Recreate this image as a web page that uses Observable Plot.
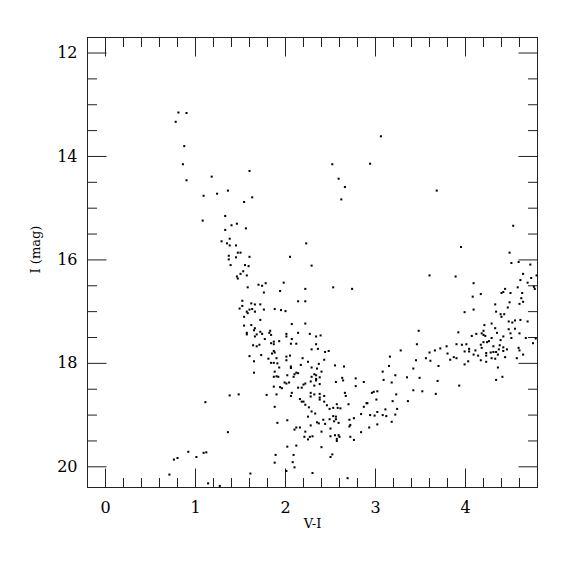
<!DOCTYPE html>
<html>
<head>
<meta charset="utf-8">
<script src="https://cdn.jsdelivr.net/npm/d3@7"></script>
<script src="https://cdn.jsdelivr.net/npm/@observablehq/plot@0.6"></script>
<style>
  html, body { margin: 0; padding: 0; background: #fff; }
  #chart svg { display: block; }
</style>
</head>
<body>
<div id="chart"></div>
<script>
// ---- Data: [V-I, I (mag)] ----
const brightStars = [[0.81,13.15],[0.90,13.16],[0.78,13.33],[0.875,13.80],[0.86,14.15],[1.18,14.39],[0.90,14.46],
  [3.06,13.61],[1.60,14.28],[2.52,14.15],[2.94,14.14],[2.59,14.43],[2.66,14.59],[3.68,14.66],
  [1.09,14.76],[1.24,14.72],[1.36,14.66],[1.63,14.79],[1.54,14.88],[2.62,14.83]];

const giantBranch = [[1.08,15.24],[1.33,15.15],[1.40,15.33],[1.46,15.30],[1.33,15.42],[1.38,15.59],[1.29,15.64],[1.35,15.68],
  [1.38,15.72],[1.45,15.72],[1.37,15.92],[1.37,15.99],[1.45,15.95],[1.39,16.10],[1.46,16.32],
  [1.56,15.39],[2.23,15.68],[1.47,15.86],[1.50,15.86],[1.60,15.94],[2.05,15.94],[2.29,16.11],[1.55,16.10],[1.59,16.12],
  [1.53,16.22],[1.50,16.27],[1.57,16.30],[1.47,16.36],[1.98,16.44],[1.78,16.45],[1.70,16.48],[1.74,16.50],[1.58,16.53],
  [2.53,16.53],[2.74,16.56],[2.22,16.56],[1.94,16.60],[1.76,16.63],[1.52,16.79],[2.14,16.80],[2.22,16.80],[1.62,16.84],
  [1.66,16.86],[1.52,16.89],[1.72,16.86],[1.49,16.94],[1.60,16.96],[1.63,16.95],[1.76,16.96],[1.88,16.95],[1.95,16.97],
  [2.00,16.99],[1.57,17.00],[1.58,17.03],[1.66,17.00],[1.54,17.10],[1.72,17.16],[2.07,17.24],[2.22,17.23],[1.54,17.27],
  [1.62,17.26],[1.66,17.32],[1.65,17.36],[1.72,17.39],[1.57,17.41],[1.57,17.44],[1.68,17.44],[1.74,17.43],[1.82,17.41],
  [1.83,17.37],[1.84,17.45],[2.01,17.43],[2.14,17.41],[2.27,17.43],[2.34,17.48],[2.39,17.46],[2.01,17.48],[1.66,17.48]];

const redGiants = [[4.53,15.34],[3.95,15.75],[4.49,15.86],[4.51,16.06],[4.59,16.04],[4.72,16.09],[3.60,16.30],[3.89,16.32],
  [4.64,16.27],[4.73,16.35],[4.79,16.30],[4.61,16.39],[4.69,16.44],[4.09,16.45],[4.76,16.52],[4.77,16.56],[4.58,16.53],
  [4.44,16.56],[4.42,16.62],[4.40,16.64],[4.50,16.64],[4.63,16.64],[4.17,16.66],[4.08,16.71],[4.62,16.74],[4.64,16.81],
  [4.49,16.82],[4.60,16.85],[4.33,16.86],[4.47,16.92],[4.09,16.96],[3.99,17.01],[4.34,17.00],[4.39,17.05],[4.43,17.05],
  [4.40,17.10],[4.55,17.17],[4.61,17.16],[4.69,17.19],[4.48,17.19],[4.52,17.21],[4.29,17.23],[4.21,17.26],[4.33,17.32],
  [4.48,17.34],[4.55,17.33],[4.20,17.37],[4.35,17.41],[4.50,17.42],[4.60,17.42],[3.48,17.37],[3.92,17.40],[4.07,17.47],
  [4.12,17.43],[4.18,17.42],[4.20,17.45],[4.22,17.47],[4.42,17.48]];

const redSequence = [[4.75,17.61],[4.78,17.52],[4.67,17.51],[4.51,17.51],[4.29,17.51],[4.20,17.59],[4.24,17.59],[4.26,17.57],
  [4.17,17.64],[4.01,17.63],[3.96,17.64],[3.90,17.63],[3.79,17.67],[3.72,17.71],[3.66,17.75],[3.60,17.79],[3.56,17.90],
  [3.61,17.95],[3.80,17.81],[3.83,17.93],[3.87,17.88],[3.90,17.90],[3.99,17.77],[4.04,17.72],[4.04,17.77],[4.09,17.83],
  [4.03,17.96],[3.99,18.02],[4.11,17.75],[4.14,17.85],[4.17,17.94],[4.23,17.80],[4.23,17.85],[4.23,17.97],[4.18,17.70],
  [4.28,17.79],[4.31,17.78],[4.34,17.78],[4.29,17.90],[4.33,17.91],[4.31,17.67],[4.36,17.83],[4.37,17.73],[4.38,17.65],
  [4.39,17.55],[4.42,17.69],[4.46,17.73],[4.42,17.76],[4.44,17.88],[4.36,18.08],[4.34,18.32],[4.41,18.26],[4.59,17.70],
  [4.60,17.75],[4.64,17.83],[4.57,17.90],[3.70,18.05],[3.69,18.34],[3.67,18.59],[3.93,18.43],[3.52,18.54],[3.49,18.28],
  [3.45,17.94],[3.46,17.63],[3.28,17.75],[3.35,18.27],[3.42,18.10],[3.42,18.52],[3.36,18.73],[3.16,17.87],[3.15,18.05],
  [3.22,18.23],[3.18,18.37],[3.23,18.60],[3.19,18.73],[3.24,18.88],[3.22,18.99],[3.18,19.13]];

const faintBlue = [[1.11,18.75],[1.38,18.62],[1.36,19.33],[0.92,19.71],[1.01,19.81],[1.09,19.73],[1.12,19.72],[0.80,19.83],
  [0.76,19.86],[0.71,20.15],[1.14,20.32],[1.27,20.37]];

const lowerBranch = [[1.77,17.53],[2.07,17.53],[1.64,17.65],[1.68,17.67],[1.71,17.64],[1.84,17.61],[1.87,17.58],[1.87,17.63],
  [1.93,17.57],[2.06,17.62],[2.12,17.62],[2.34,17.63],[2.29,17.73],[2.36,17.72],[2.44,17.78],[2.48,17.76],[1.60,17.86],
  [1.65,17.96],[1.73,17.84],[1.81,17.91],[1.85,17.81],[1.87,17.76],[1.88,17.79],[1.90,17.90],[1.84,17.99],[1.87,17.99],
  [1.91,18.00],[1.93,18.08],[2.01,17.87],[2.01,17.94],[2.05,17.85],[2.06,18.06],[2.06,18.09],[2.19,17.90],[2.25,17.97],
  [2.17,18.03],[2.43,17.93],[2.37,18.01],[2.29,18.08],[2.35,18.10],[2.40,18.16],[2.55,18.04],[2.65,18.06],[3.08,18.16],
  [3.09,18.32],[1.65,18.18],[1.88,18.16],[1.90,18.25],[1.87,18.26],[1.92,18.26],[2.02,18.23],[2.10,18.21],[2.12,18.18],
  [2.14,18.19],[2.09,18.26],[2.32,18.21],[2.34,18.23],[2.29,18.26],[2.38,18.27],[2.34,18.30],[2.34,18.33],[2.28,18.35],
  [2.38,18.40],[2.32,18.43],[2.56,18.36],[2.63,18.28],[2.64,18.33],[2.78,18.29],[2.87,18.36],[2.78,18.44],[1.99,18.37],
  [2.01,18.39],[2.04,18.37],[1.87,18.45],[1.94,18.46],[1.96,18.48],[2.14,18.47],[2.18,18.47],[2.20,18.41],[2.22,18.39],
  [1.48,18.60],[1.79,18.61],[1.90,18.60],[2.07,18.57],[2.06,18.63],[2.28,18.57],[2.28,18.64],[2.32,18.60],[2.38,18.59],
  [2.38,18.66],[2.43,18.63],[2.38,18.70],[2.43,18.74],[2.46,18.81],[2.49,18.88],[2.53,18.86],[2.57,18.79],[2.58,18.86],
  [2.61,18.87],[2.66,18.57],[2.67,18.63],[2.70,18.79],[2.16,18.69],[2.18,18.74],[2.20,18.74],[2.22,18.80],[2.26,18.85],
  [2.29,18.93],[2.33,18.97],[2.25,19.03],[1.88,18.84],[2.53,19.02],[2.56,19.03],[2.56,19.08],[2.54,19.12],[2.49,19.08],
  [2.42,19.09],[2.35,19.14],[2.37,19.16],[2.44,19.17],[2.50,19.26],[2.59,19.15],[2.71,19.09],[2.76,19.06],[2.72,19.19],
  [2.71,19.22],[2.28,19.20],[2.16,19.24],[2.12,19.24],[2.10,19.28],[2.22,19.32],[2.30,19.41],[2.27,19.42],[2.25,19.47],
  [2.21,19.42],[2.40,19.32],[2.50,19.41],[2.55,19.39],[2.59,19.39],[2.60,19.42],[2.57,19.46],[2.57,19.50],[2.72,19.42],
  [2.76,19.48],[2.84,19.33],[2.93,19.24],[3.02,19.18],[3.11,18.89],[3.12,19.02],[3.08,19.00],[3.02,18.94],[2.99,19.01],
  [2.94,19.00],[3.02,18.54],[2.98,18.55],[2.96,18.57],[3.01,18.70],[2.91,18.77],[2.90,18.77],[2.87,18.84],[2.84,18.98],
  [2.02,19.10],[1.91,19.15],[2.12,19.59],[2.02,19.61],[1.89,19.77],[2.09,19.77],[2.52,19.76],[2.50,19.81],[2.40,19.62],
  [1.88,19.92],[2.08,19.91],[2.10,20.01],[2.01,20.08],[1.61,20.13],[2.30,20.12],[2.69,20.22]];

// ---- Axes ----
const xMajor = [0, 1, 2, 3, 4];
const xMinor = [0.2,0.4,0.6,0.8,1.2,1.4,1.6,1.8,2.2,2.4,2.6,2.8,3.2,3.4,3.6,3.8,4.2,4.4,4.6];
const yMajor = [12, 14, 16, 18, 20];
const yMinor = [12.5,13,13.5,14.5,15,15.5,16.5,17,17.5,18.5,19,19.5];
const xTitle = "V-I";
const yTitle = "I (mag)";

const stars = [...brightStars, ...giantBranch, ...redGiants, ...redSequence, ...faintBlue, ...lowerBranch];

const FONT = "'DejaVu Serif', 'Liberation Serif', serif";
const MAJOR = 19, MINOR = 9.5;
const line = {draw(ctx, l) { ctx.moveTo(0, 0); ctx.lineTo(0, -l); }};
const tickOpts = (len) => ({shape: line, length: len, anchor: "start", stroke: "#222", strokeWidth: 1, strokeLinecap: "butt"});

const chart = Plot.plot({
  width: 575,
  height: 575,
  marginLeft: 87,
  marginRight: 38,
  marginTop: 37,
  marginBottom: 88,
  style: {fontFamily: FONT, background: "white", color: "black"},
  x: {domain: [-0.2, 4.8], axis: null},
  y: {domain: [11.7, 20.4], reverse: true, axis: null},
  marks: [
    Plot.frame({stroke: "#222", strokeWidth: 1}),
    // bottom / top ticks
    Plot.vectorX(xMajor, {x: d => d, frameAnchor: "bottom", rotate: 0, ...tickOpts(MAJOR)}),
    Plot.vectorX(xMinor, {x: d => d, frameAnchor: "bottom", rotate: 0, ...tickOpts(MINOR)}),
    Plot.vectorX(xMajor, {x: d => d, frameAnchor: "top", rotate: 180, ...tickOpts(MAJOR)}),
    Plot.vectorX(xMinor, {x: d => d, frameAnchor: "top", rotate: 180, ...tickOpts(MINOR)}),
    // left / right ticks
    Plot.vectorY(yMajor, {y: d => d, frameAnchor: "left", rotate: 90, ...tickOpts(MAJOR)}),
    Plot.vectorY(yMinor, {y: d => d, frameAnchor: "left", rotate: 90, ...tickOpts(MINOR)}),
    Plot.vectorY(yMajor, {y: d => d, frameAnchor: "right", rotate: -90, ...tickOpts(MAJOR)}),
    Plot.vectorY(yMinor, {y: d => d, frameAnchor: "right", rotate: -90, ...tickOpts(MINOR)}),
    // tick labels
    Plot.text(xMajor, {x: d => d, frameAnchor: "bottom", dy: 20.5, textAnchor: "middle", lineAnchor: "middle", text: d => String(d), fontSize: 16, fontFamily: FONT, fill: "black"}),
    Plot.text(yMajor, {y: d => d, frameAnchor: "left", dx: -10, textAnchor: "end", lineAnchor: "middle", text: d => String(d), fontSize: 16, fontFamily: FONT, fill: "black"}),
    // axis titles
    Plot.text([xTitle], {frameAnchor: "bottom", dy: 36.5, textAnchor: "middle", lineAnchor: "middle", text: d => d, fontSize: 13, fontFamily: FONT, fill: "black"}),
    Plot.text([yTitle], {frameAnchor: "left", dx: -52, dy: -13, rotate: -90, textAnchor: "middle", lineAnchor: "middle", text: d => d, fontSize: 13, fontFamily: FONT, fill: "black"}),
    // stars
    Plot.dot(stars, {x: d => d[0], y: d => d[1], r: 1.15, symbol: "square", fill: "black", stroke: "none"})
  ]
});
document.getElementById("chart").appendChild(chart);
</script>
</body>
</html>
